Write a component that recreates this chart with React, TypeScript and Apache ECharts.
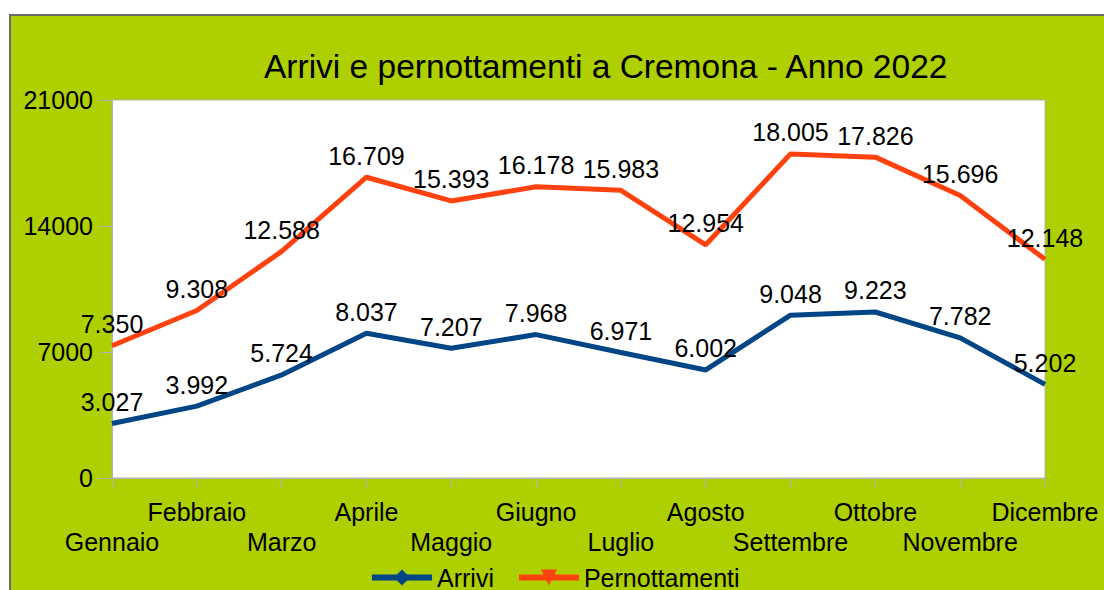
import React, { useEffect, useRef } from "react";
import * as echarts from "echarts";

const categories = ["Gennaio", "Febbraio", "Marzo", "Aprile", "Maggio", "Giugno", "Luglio", "Agosto", "Settembre", "Ottobre", "Novembre", "Dicembre"];
const arrivi = [3027, 3992, 5724, 8037, 7207, 7968, 6971, 6002, 9048, 9223, 7782, 5202];
const pernottamenti = [7350, 9308, 12588, 16709, 15393, 16178, 15983, 12954, 18005, 17826, 15696, 12148];
const titleText = "Arrivi e pernottamenti a Cremona - Anno 2022";

const FONT = "'Liberation Sans', Arial, sans-serif";
const fmt = (v: number) => String(v).replace(/\B(?=(\d{3})+(?!\d))/g, ".");

export default function App() {
  const ref = useRef<HTMLDivElement>(null);
  useEffect(() => {
    document.body.style.margin = "0";
    const chart = echarts.init(ref.current!, null, { renderer: "svg" });
    const label = {
      show: true,
      position: "top" as const,
      distance: 9,
      fontSize: 25,
      color: "#000",
      fontFamily: FONT,
      formatter: (p: any) => fmt(p.value),
    };
    chart.setOption({
      animation: false,
      backgroundColor: "#ffffff",
      textStyle: { fontFamily: FONT },
      graphic: [
        {
          type: "rect",
          z: -10,
          shape: { x: 10, y: 15, width: 1110, height: 600 },
          style: { fill: "#afd000", stroke: "#6b6b6b", lineWidth: 2 },
        },
      ],
      title: {
        text: titleText,
        left: 259,
        top: 44,
        textStyle: { fontSize: 33.5, fontWeight: "normal", color: "#000", fontFamily: FONT },
      },
      grid: {
        left: 112,
        right: 59,
        top: 100,
        bottom: 112,
        show: true,
        backgroundColor: "#ffffff",
        borderColor: "#b3b3b3",
        borderWidth: 1,
      },
      legend: {
        left: 364,
        top: 560,
        itemWidth: 60,
        itemHeight: 20,
        itemGap: 22,
        lineStyle: { width: 6 },
        textStyle: { fontSize: 25, color: "#000", fontFamily: FONT },
        data: ["Arrivi", "Pernottamenti"],
      },
      xAxis: {
        type: "category",
        data: categories,
        boundaryGap: false,
        axisLine: { lineStyle: { color: "#b3b3b3" } },
        axisTick: { show: true, length: 11, lineStyle: { color: "#b3b3b3" }, interval: 0 },
        axisLabel: {
          interval: 0,
          fontSize: 25,
          color: "#000",
          fontFamily: FONT,
          lineHeight: 30,
          margin: 19,
          formatter: (v: string, i: number) => (i % 2 === 0 ? "\n" + v : v),
        },
        splitLine: { show: false },
      },
      yAxis: {
        type: "value",
        min: 0,
        max: 21000,
        interval: 7000,
        axisLine: { show: true, lineStyle: { color: "#b3b3b3" } },
        axisTick: { show: true, length: 11, lineStyle: { color: "#b3b3b3" } },
        axisLabel: { fontSize: 25, color: "#000", fontFamily: FONT, margin: 19, formatter: (v: number) => String(v) },
        splitLine: { show: false },
      },
      series: [
        {
          name: "Arrivi",
          type: "line",
          data: arrivi,
          symbol: "diamond",
          symbolSize: 0,
          showSymbol: true,
          color: "#004586",
          lineStyle: { width: 5, color: "#004586" },
          label,
        },
        {
          name: "Pernottamenti",
          type: "line",
          data: pernottamenti,
          symbol: "triangle",
          symbolRotate: 180,
          symbolSize: 0,
          showSymbol: true,
          color: "#ff420e",
          lineStyle: { width: 5, color: "#ff420e" },
          label,
        },
      ],
    });
    return () => chart.dispose();
  }, []);
  return <div ref={ref} style={{ position: "fixed", left: 0, top: 0, width: 1104, height: 590 }} />;
}
